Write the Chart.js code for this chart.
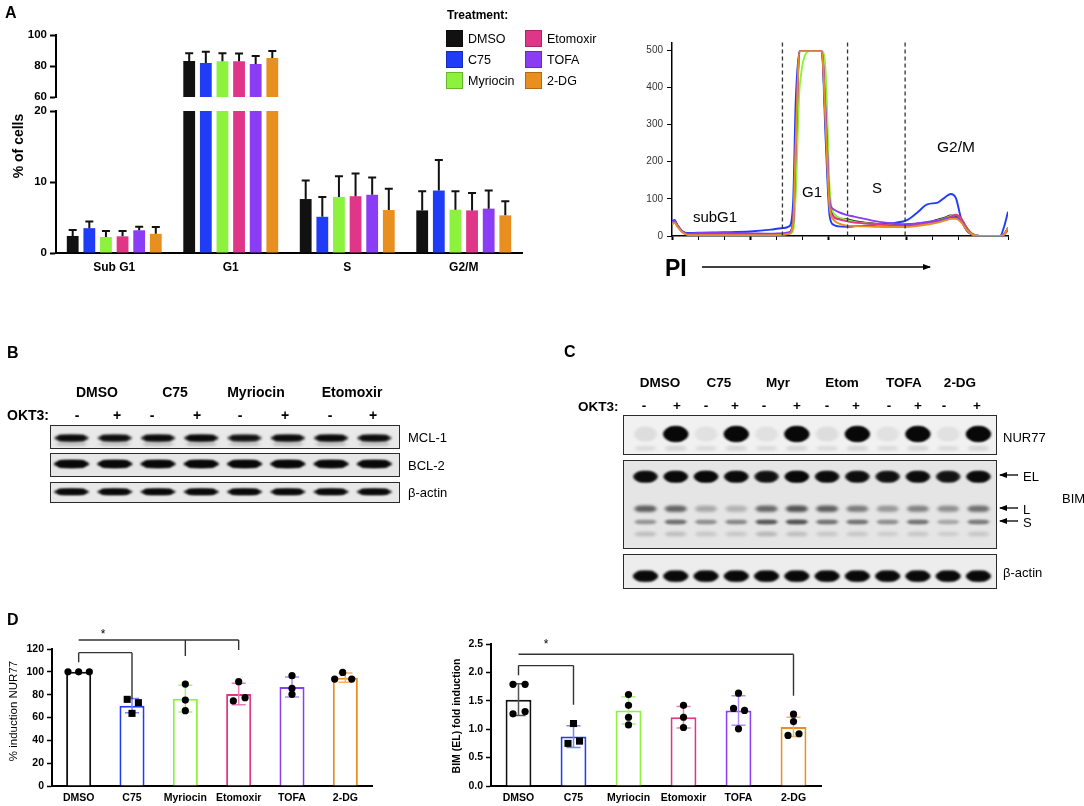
<!DOCTYPE html>
<html>
<head>
<meta charset="utf-8">
<title>Metabolic inhibitors: cell cycle and apoptosis proteins</title>
<script src="https://cdn.jsdelivr.net/npm/chart.js@4.4.1/dist/chart.umd.min.js"></script>
<style>
  html, body { margin: 0; padding: 0; background: #fff; }
  body { position: relative; width: 1084px; height: 806px; overflow: hidden; font-family: 'Liberation Sans', Arial, sans-serif; color: #000; }
  .pane { position: absolute; }
  .pane canvas { display: block; }
  .blot { position: absolute; border: 1.5px solid #2a2a2a; box-sizing: border-box; }
  .txt { position: absolute; white-space: nowrap; line-height: 1; }
  .sw { position: absolute; width: 17px; height: 17px; box-sizing: border-box; border: 1px solid rgba(0,0,0,0.25); }
  svg.marks { position: absolute; left: 0; top: 0; pointer-events: none; }
</style>
</head>
<body>

<!-- A: broken-axis bar chart -->
<div class="pane" style="left:0;top:23px;width:540px;height:86px"><canvas id="cellsTop"></canvas></div>
<div class="pane" style="left:0;top:97px;width:540px;height:193px"><canvas id="cellsLow"></canvas></div>

<!-- A: histogram -->
<div class="pane" style="left:630px;top:30px;width:400px;height:231px"><canvas id="histo"></canvas></div>

<!-- B: blots -->
<div class="blot" style="left:50px;top:425px;width:350px;height:23.5px"><canvas id="blotMcl"></canvas></div>
<div class="blot" style="left:50px;top:453px;width:350px;height:24px"><canvas id="blotBcl"></canvas></div>
<div class="blot" style="left:50px;top:481.5px;width:350px;height:21.5px"><canvas id="blotActB"></canvas></div>

<!-- C: blots -->
<div class="blot" style="left:623px;top:415px;width:374px;height:40px"><canvas id="blotNur"></canvas></div>
<div class="blot" style="left:623px;top:460px;width:374px;height:89px"><canvas id="blotBim"></canvas></div>
<div class="blot" style="left:623px;top:554px;width:374px;height:34.5px"><canvas id="blotActC"></canvas></div>

<!-- D: dot plots -->
<div class="pane" style="left:0;top:615px;width:390px;height:191px"><canvas id="nurPlot"></canvas></div>
<div class="pane" style="left:440px;top:615px;width:400px;height:191px"><canvas id="bimPlot"></canvas></div>

<svg class="marks" width="1084" height="806">
  <defs>
    <marker id="head" markerWidth="8" markerHeight="6" refX="7" refY="3" orient="auto" markerUnits="userSpaceOnUse">
      <path d="M0,0 L8,3 L0,6 Z" fill="#000"/>
    </marker>
  </defs>
  <line x1="702" y1="267" x2="930" y2="267" stroke="#000" stroke-width="1.5" marker-end="url(#head)"/>
  <line x1="1018" y1="475" x2="1000" y2="475" stroke="#000" stroke-width="1.3" marker-end="url(#head)"/>
  <line x1="1018" y1="508" x2="1000" y2="508" stroke="#000" stroke-width="1.3" marker-end="url(#head)"/>
  <line x1="1018" y1="521" x2="1000" y2="521" stroke="#000" stroke-width="1.3" marker-end="url(#head)"/>
</svg>

<script>
// ---- data ----
const treatments = ['DMSO', 'C75', 'Myriocin', 'Etomoxir', 'TOFA', '2-DG'];
const treatColors = ['#111111', '#1f3cf6', '#8cf23e', '#e03688', '#8a3df4', '#e88f1f'];
const whiskerColors = ['#555555', '#7088fb', '#a9f27c', '#ec7cb0', '#b18bf6', '#f0b264'];

// A: % of cells per phase (mean) and upper error
const phases = ['Sub G1', 'G1', 'S', 'G2/M'];
const dmsoPct = [2.4, 83.2, 7.6, 6.0];
const c75Pct = [3.5, 82.0, 5.1, 8.8];
const myrPct = [2.25, 83.0, 7.9, 6.1];
const etoPct = [2.35, 83.0, 8.0, 6.0];
const tofaPct = [3.2, 81.3, 8.2, 6.25];
const dgPct = [2.7, 85.2, 6.05, 5.3];
const dmsoErr = [0.85, 5.0, 2.6, 2.7];
const c75Err = [0.95, 7.2, 2.8, 4.3];
const myrErr = [0.85, 5.2, 2.9, 2.6];
const etoErr = [0.75, 5.0, 3.2, 2.45];
const tofaErr = [0.5, 5.2, 2.45, 2.55];
const dgErr = [0.95, 4.5, 3.0, 2.0];

// A: PI histogram (channel, counts)
const histX = [0, 1, 2, 4, 6, 10, 20, 30, 38, 42, 45, 46.5, 47.5, 49, 53, 57.5, 59, 60.5, 62, 64, 67, 70, 74, 78, 82, 86, 90, 94, 98, 102, 105, 107, 109, 111, 113, 115, 118, 122, 126, 127.5, 129];
const histDmso = [38, 41, 28, 12, 5, 3, 3, 3, 4, 5, 8, 40, 250, 497, 497, 497, 300, 80, 58, 48, 45, 40, 36, 33, 31, 30, 31, 33, 36, 44, 50, 55, 54, 40, 18, 5, 0, 0, 0, 5, 22];
const histC75 = [40, 43, 30, 13, 8, 9, 10, 12, 17, 21, 26, 90, 360, 497, 497, 497, 260, 55, 30, 26, 25, 26, 28, 30, 33, 36, 42, 62, 85, 90, 105, 113, 102, 47, 16, 4, 0, 0, 0, 25, 65];
const histMyr = [36, 39, 27, 11, 4, 2, 2, 2, 3, 4, 6, 14, 110, 400, 497, 497, 440, 130, 62, 50, 43, 38, 35, 32, 30, 28, 28, 32, 36, 42, 48, 54, 56, 46, 24, 8, 0, 0, 0, 5, 18];
const histEto = [34, 39, 28, 11, 5, 6, 6, 5, 5, 6, 9, 32, 230, 497, 497, 497, 320, 90, 52, 45, 40, 36, 34, 32, 30, 28, 27, 30, 35, 40, 47, 52, 57, 48, 24, 7, 0, 0, 0, 4, 16];
const histTofa = [36, 40, 29, 12, 6, 8, 8, 7, 6, 7, 10, 36, 260, 497, 497, 497, 330, 95, 72, 64, 57, 52, 46, 40, 36, 33, 31, 34, 38, 41, 46, 50, 50, 40, 20, 5, 0, 0, 0, 5, 20];
const histDg = [31, 36, 26, 10, 3, 2, 2, 2, 2, 3, 6, 30, 240, 497, 497, 497, 300, 78, 44, 34, 28, 27, 26, 25, 24, 24, 24, 27, 31, 36, 42, 46, 46, 37, 18, 5, 0, 0, 0, 4, 22];
const gateEdges = [42.4, 67.4, 89.5];

// B/C: band intensities per lane (0 = none, 1 = saturated)
const mclBand = [0.9, 0.85, 0.9, 0.95, 0.8, 0.9, 0.92, 0.88];
const bclBand = [1, 1, 0.97, 1, 1, 1, 0.98, 0.97];
const actinB = [0.95, 0.93, 0.93, 0.95, 0.95, 0.93, 0.93, 0.92];
const nurBand = [0.04, 1, 0.03, 1, 0.03, 1, 0.04, 1, 0.03, 1, 0.03, 1];
const bimEL = [0.88, 0.92, 0.95, 0.9, 0.8, 0.97, 0.88, 0.85, 0.8, 0.88, 0.78, 0.9];
const bimL = [0.38, 0.36, 0.15, 0.12, 0.35, 0.42, 0.38, 0.28, 0.2, 0.26, 0.22, 0.32];
const bimS = [0.2, 0.32, 0.22, 0.24, 0.4, 0.42, 0.3, 0.3, 0.22, 0.3, 0.15, 0.28];
const bimLow = [0.1, 0.1, 0.08, 0.08, 0.12, 0.1, 0.08, 0.08, 0.06, 0.08, 0.06, 0.08];
const actinC = [0.95, 0.95, 0.95, 0.95, 0.95, 0.95, 0.95, 0.95, 0.95, 0.95, 0.95, 0.95];

// D: NUR77 induction (%) and BIM(EL) fold induction
const nurMean = [100, 70.4, 76.5, 80.6, 86.7, 94.9];
const nurSd = [0, 6.3, 11.7, 9.4, 8.7, 4.1];
const nurDots = [[100, 100, 100], [75.9, 73, 63.6], [89.3, 75.3, 66], [91.4, 74.5, 77.4], [96.6, 85.5, 80.3], [99.5, 93.7, 93.7]];
const bimMean = [1.52, 0.87, 1.33, 1.21, 1.33, 1.04];
const bimSd = [0.28, 0.19, 0.24, 0.19, 0.26, 0.17];
const bimDots = [[1.79, 1.79, 1.27, 1.31], [1.10, 0.75, 0.79], [1.61, 1.42, 1.21, 1.076], [1.42, 1.21, 1.03], [1.635, 1.365, 1.33, 1.006], [1.265, 1.135, 0.89, 0.92]];

Chart.defaults.font.family = "'Liberation Sans', Arial, sans-serif";
Chart.defaults.color = '#000';

const fixWidth = w => scale => { scale.width = w; };
const fixHeight = h => scale => { scale.height = h; };

// ---- A: bars with upward error bars, split into two y ranges ----
const errorCaps = {
  id: 'errorCaps',
  afterDatasetsDraw(chart) {
    const { ctx, scales: { y } } = chart;
    ctx.save();
    ctx.strokeStyle = '#111';
    ctx.lineWidth = 2;
    chart.data.datasets.forEach((ds, i) => {
      chart.getDatasetMeta(i).data.forEach((bar, j) => {
        const v = ds.data[j];
        if (v == null || v > y.max) return;
        const top = y.getPixelForValue(v + ds.errUp[j]);
        ctx.beginPath();
        ctx.moveTo(bar.x, bar.y);
        ctx.lineTo(bar.x, top);
        ctx.moveTo(bar.x - 4, top);
        ctx.lineTo(bar.x + 4, top);
        ctx.stroke();
      });
    });
    ctx.restore();
  }
};

const pctSeries = [dmsoPct, c75Pct, myrPct, etoPct, tofaPct, dgPct];
const errSeries = [dmsoErr, c75Err, myrErr, etoErr, tofaErr, dgErr];

function cellsChart(id, range) {
  return new Chart(document.getElementById(id), {
    type: 'bar',
    data: {
      labels: phases,
      datasets: treatments.map((t, i) => ({
        label: t,
        data: pctSeries[i].map(v => (range.upper && v < range.min ? null : v)),
        errUp: errSeries[i],
        backgroundColor: treatColors[i],
        borderWidth: 0,
        categoryPercentage: 0.856,
        barPercentage: 0.71
      }))
    },
    options: {
      responsive: true,
      maintainAspectRatio: false,
      animation: false,
      events: [],
      layout: { padding: range.padding },
      plugins: { legend: { display: false }, tooltip: { enabled: false } },
      scales: {
        x: {
          display: !range.upper,
          grid: { display: false, drawTicks: false },
          border: { display: true, color: '#000', width: 2 },
          ticks: { padding: 7, font: { size: 12, weight: 'bold' } },
          afterFit: fixHeight(range.upper ? 0 : 37)
        },
        y: {
          min: range.min,
          max: range.max,
          ticks: { stepSize: range.step, padding: 3, font: { size: 11.5, weight: 'bold' } },
          grid: { drawOnChartArea: false, tickLength: 6, tickColor: '#000', tickWidth: 2 },
          border: { color: '#000', width: 2 },
          afterFit: fixWidth(56)
        }
      }
    },
    plugins: [errorCaps]
  });
}

cellsChart('cellsTop', { upper: true, min: 60, max: 100, step: 20, padding: { top: 12, bottom: 12, right: 18, left: 0 } });
cellsChart('cellsLow', { upper: false, min: 0, max: 20, step: 10, padding: { top: 14, bottom: 0, right: 18, left: 0 } });

// ---- A: PI histogram ----
const gateLines = {
  id: 'gateLines',
  afterDatasetsDraw(chart) {
    const { ctx, chartArea: a, scales: { x } } = chart;
    ctx.save();
    ctx.strokeStyle = '#333';
    ctx.lineWidth = 1.3;
    ctx.setLineDash([4, 3]);
    gateEdges.forEach(g => {
      const px = x.getPixelForValue(g);
      ctx.beginPath();
      ctx.moveTo(px, a.top);
      ctx.lineTo(px, a.bottom);
      ctx.stroke();
    });
    ctx.restore();
  }
};

const histSeries = [histDmso, histC75, histMyr, histEto, histTofa, histDg];
const histOrder = [5, 4, 3, 2, 1, 0];

new Chart(document.getElementById('histo'), {
  type: 'line',
  data: {
    datasets: histSeries.map((s, i) => ({
      label: treatments[i],
      data: histX.map((x, k) => ({ x, y: s[k] })),
      borderColor: treatColors[i],
      borderWidth: 1.9,
      pointRadius: 0,
      cubicInterpolationMode: 'monotone',
      order: histOrder[i]
    }))
  },
  options: {
    responsive: true,
    maintainAspectRatio: false,
    animation: false,
    events: [],
    layout: { padding: { top: 12.6, right: 22, left: 0, bottom: 0 } },
    plugins: { legend: { display: false }, tooltip: { enabled: false } },
    scales: {
      x: {
        type: 'linear',
        min: 0,
        max: 129,
        ticks: { display: false, stepSize: 10 },
        grid: {
          drawOnChartArea: false, tickLength: 4, tickColor: '#000',
          tickWidth: c => (c.tick && c.tick.value % 30 === 0 ? 2 : 1)
        },
        border: { color: '#000', width: 1.5 },
        afterFit: fixHeight(25)
      },
      y: {
        min: 0,
        max: 520,
        ticks: { stepSize: 100, includeBounds: false, padding: 4, color: '#333', font: { size: 10 } },
        grid: { drawOnChartArea: false, tickLength: 5, tickColor: '#000' },
        border: { color: '#000', width: 1.5 },
        afterFit: fixWidth(42)
      }
    }
  },
  plugins: [gateLines]
});

// ---- B/C: western blot lanes ----
function blotBands(bg, rows) {
  return {
    id: 'blotBands',
    beforeDatasetsDraw(chart) {
      const { ctx, chartArea: a, scales: { x, y } } = chart;
      const lane = x.getPixelForValue(1) - x.getPixelForValue(0);
      ctx.save();
      ctx.fillStyle = bg;
      ctx.fillRect(a.left, a.top, a.width, a.height);
      rows.forEach(r => {
        ctx.filter = `blur(${r.blur}px)`;
        r.vals.forEach((v, i) => {
          const cx = x.getPixelForValue(i), cy = y.getPixelForValue(r.y), w = lane * r.w;
          ctx.fillStyle = `rgba(8,8,8,${v})`;
          ctx.beginPath();
          ctx.ellipse(cx, cy, w / 2, r.h / 2, 0, 0, Math.PI * 2);
          ctx.fill();
          ctx.beginPath();
          ctx.roundRect(cx - w * 0.4, cy - r.h / 2, w * 0.8, r.h, r.h / 2);
          ctx.fill();
        });
      });
      ctx.restore();
    }
  };
}

function blot(id, lanes, bg, rows) {
  return new Chart(document.getElementById(id), {
    type: 'scatter',
    data: { datasets: [] },
    options: {
      responsive: true,
      maintainAspectRatio: false,
      animation: false,
      events: [],
      layout: { padding: 0 },
      plugins: { legend: { display: false }, tooltip: { enabled: false } },
      scales: {
        x: { type: 'linear', display: false, min: lanes[0], max: lanes[1] },
        y: { type: 'linear', display: false, min: 0, max: 1, reverse: true }
      }
    },
    plugins: [blotBands(bg, rows)]
  });
}

const lanesB = [-0.475, 7.57];
const lanesC = [-0.71, 11.58];
blot('blotMcl', lanesB, '#e9e9e9', [
  { vals: mclBand.map(v => v * 0.12), y: 0.8, h: 3, w: 0.8, blur: 1 },
  { vals: mclBand, y: 0.53, h: 6, w: 0.8, blur: 0.9 }
]);
blot('blotBcl', lanesB, '#e6e6e6', [{ vals: bclBand, y: 0.45, h: 7.5, w: 0.82, blur: 0.9 }]);
blot('blotActB', lanesB, '#e8e8e8', [{ vals: actinB, y: 0.45, h: 6, w: 0.82, blur: 0.9 }]);

blot('blotNur', lanesC, '#f1f1f1', [
  { vals: nurBand.map(v => 0.05 + v * 0.02), y: 0.85, h: 4, w: 0.8, blur: 1.5 },
  { vals: nurBand, y: 0.475, h: 15, w: 0.84, blur: 1.1 }
]);
blot('blotBim', lanesC, '#e5e5e5', [
  { vals: bimEL, y: 0.18, h: 11, w: 0.82, blur: 1.2 },
  { vals: bimL, y: 0.55, h: 6, w: 0.8, blur: 1.4 },
  { vals: bimS, y: 0.70, h: 4.5, w: 0.8, blur: 1.2 },
  { vals: bimLow, y: 0.84, h: 4, w: 0.8, blur: 1.5 }
]);
blot('blotActC', lanesC, '#ededed', [{ vals: actinC, y: 0.63, h: 10, w: 0.84, blur: 1.1 }]);

// ---- D: open bars with SD whiskers, individual points and brackets ----
const whiskers = {
  id: 'whiskers',
  afterDatasetDraw(chart, args) {
    const ds = chart.data.datasets[args.index];
    if (!ds.sd) return;
    const { ctx, scales: { y } } = chart;
    ctx.save();
    ctx.lineWidth = 1.5;
    args.meta.data.forEach((bar, j) => {
      const sd = ds.sd[j];
      if (!sd) return;
      const hi = y.getPixelForValue(ds.data[j] + sd), lo = y.getPixelForValue(ds.data[j] - sd);
      ctx.strokeStyle = whiskerColors[j];
      ctx.beginPath();
      ctx.moveTo(bar.x, hi); ctx.lineTo(bar.x, lo);
      ctx.moveTo(bar.x - 7, hi); ctx.lineTo(bar.x + 7, hi);
      ctx.moveTo(bar.x - 7, lo); ctx.lineTo(bar.x + 7, lo);
      ctx.stroke();
    });
    ctx.restore();
  }
};

function bracketLines(list) {
  return {
    id: 'brackets',
    afterDatasetsDraw(chart) {
      const { ctx, scales: { xj, y } } = chart;
      ctx.save();
      ctx.strokeStyle = '#333';
      ctx.lineWidth = 1.4;
      list.forEach(b => {
        const yy = y.getPixelForValue(b.y);
        ctx.beginPath();
        ctx.moveTo(xj.getPixelForValue(b.from), yy);
        ctx.lineTo(xj.getPixelForValue(b.to), yy);
        b.drops.forEach(([at, end]) => {
          ctx.moveTo(xj.getPixelForValue(at), yy);
          ctx.lineTo(xj.getPixelForValue(at), y.getPixelForValue(end));
        });
        ctx.stroke();
      });
      ctx.restore();
    }
  };
}

function dotPlot(id, o) {
  const pts = [];
  o.dots.forEach((vals, i) => vals.forEach((v, k) => pts.push({ x: i + o.spread[i][k], y: v, sq: i === 1 })));
  return new Chart(document.getElementById(id), {
    data: {
      labels: treatments,
      datasets: [
        {
          type: 'bar', data: o.means, sd: o.sds, grouped: false,
          borderColor: treatColors, backgroundColor: '#ffffff', borderWidth: 2,
          categoryPercentage: o.barFrac, barPercentage: 1, order: 2
        },
        {
          type: 'scatter', xAxisID: 'xj', data: pts,
          backgroundColor: '#000', borderColor: '#000', borderWidth: 0,
          pointStyle: c => (c.raw && c.raw.sq ? 'rect' : 'circle'),
          pointRadius: c => (c.raw && c.raw.sq ? 5 : 3.6),
          order: 1
        }
      ]
    },
    options: {
      responsive: true,
      maintainAspectRatio: false,
      animation: false,
      events: [],
      layout: { padding: o.padding },
      plugins: { legend: { display: false }, tooltip: { enabled: false } },
      scales: {
        x: {
          grid: { display: false, drawTicks: false },
          border: { display: true, color: '#000', width: 2 },
          ticks: { padding: 6, font: { size: 10.5, weight: 'bold' } },
          afterFit: fixHeight(20)
        },
        xj: { type: 'linear', display: false, min: -0.5, max: 5.5 },
        y: {
          min: 0,
          max: o.max,
          ticks: { stepSize: o.step, padding: 3, font: { size: 10.5, weight: 'bold' }, callback: v => v.toFixed(o.decimals) },
          grid: { drawOnChartArea: false, tickLength: 5, tickColor: '#000', tickWidth: 1.5 },
          border: { color: '#000', width: 2 },
          afterFit: fixWidth(o.yWidth)
        }
      }
    },
    plugins: [whiskers, bracketLines(o.brackets)]
  });
}

dotPlot('nurPlot', {
  means: nurMean, sds: nurSd, dots: nurDots,
  spread: [[-0.2, 0, 0.2], [-0.09, 0.12, 0], [0, 0, 0], [0, -0.1, 0.12], [0, 0, 0], [-0.05, -0.2, 0.12]],
  barFrac: 0.47, max: 120, step: 20, decimals: 0, yWidth: 52,
  padding: { top: 34, right: 18, left: 0, bottom: 0 },
  brackets: [
    { from: 0, to: 1, y: 116.8, drops: [[0, 108.3], [1, 75.9]] },
    { from: 0, to: 3, y: 127.9, drops: [[2, 113.9], [3, 119.1]] }
  ]
});

dotPlot('bimPlot', {
  means: bimMean, sds: bimSd, dots: bimDots,
  spread: [[-0.1, 0.12, -0.1, 0.12], [0, -0.1, 0.11], [0, 0, 0, 0], [0, 0, 0], [0, -0.09, 0.11, 0], [0, 0, -0.1, 0.1]],
  barFrac: 0.47, max: 2.5, step: 0.5, decimals: 1, yWidth: 51,
  padding: { top: 29, right: 19, left: 0, bottom: 0 },
  brackets: [
    { from: 0, to: 1, y: 2.12, drops: [[0, 1.95], [1, 1.43]] },
    { from: 0, to: 5, y: 2.32, drops: [[5, 1.59]] }
  ]
});

// ---- text ----
function put(text, x, y, style, anchor) {
  const d = document.createElement('div');
  d.className = 'txt';
  d.textContent = text;
  d.style.cssText += `left:${x}px;top:${y}px;${style}`;
  d.style.transform = anchor === 'left' ? 'translate(0,-50%)'
    : anchor === 'rot' ? 'translate(-50%,-50%) rotate(-90deg)'
    : 'translate(-50%,-50%)';
  document.body.appendChild(d);
}

const bold = s => `font-size:${s}px;font-weight:bold;`;
const reg = s => `font-size:${s}px;`;

put('A', 5, 13, bold(16), 'left');
put('B', 7, 353, bold(16), 'left');
put('C', 564, 352, bold(16), 'left');
put('D', 7, 620, bold(16), 'left');

put('% of cells', 17.5, 146, bold(14), 'rot');

// legend
put('Treatment:', 447, 15, bold(12), 'left');
const legendSpots = [[446, 30], [446, 51], [446, 72], [525, 30], [525, 51], [525, 72]];
treatments.forEach((t, i) => {
  const [lx, ly] = legendSpots[i];
  const sw = document.createElement('div');
  sw.className = 'sw';
  sw.style.left = lx + 'px';
  sw.style.top = ly + 'px';
  sw.style.background = treatColors[i];
  document.body.appendChild(sw);
  put(t, lx + 22, ly + 9, reg(12.5), 'left');
});

// histogram annotations
put('subG1', 715, 216, reg(15));
put('G1', 812, 191, reg(15));
put('S', 877, 187, reg(15));
put('G2/M', 956, 147, reg(15.5));
put('PI', 665, 268, bold(23), 'left');

// B headers
[['DMSO', 97], ['C75', 175], ['Myriocin', 256], ['Etomoxir', 352]].forEach(([t, x]) => put(t, x, 392, bold(14)));
put('OKT3:', 7, 415, bold(14), 'left');
[77, 117, 152, 197, 240, 285, 330, 373].forEach((x, i) => put(i % 2 ? '+' : '-', x, 415, bold(14)));
put('MCL-1', 408, 437, reg(13), 'left');
put('BCL-2', 408, 465, reg(13), 'left');
put('β-actin', 408, 492, reg(13), 'left');

// C headers
[['DMSO', 660], ['C75', 719], ['Myr', 778], ['Etom', 842], ['TOFA', 904], ['2-DG', 960]].forEach(([t, x]) => put(t, x, 383, bold(13.5)));
put('OKT3:', 578, 406.5, bold(13.5), 'left');
[644, 677, 706, 735, 764, 797, 827, 856, 889, 918, 944, 977].forEach((x, i) => put(i % 2 ? '+' : '-', x, 406, bold(13.5)));
put('NUR77', 1003, 437, reg(13), 'left');
put('EL', 1023, 476, reg(13), 'left');
put('BIM', 1062, 498, reg(13), 'left');
put('L', 1023, 509, reg(13), 'left');
put('S', 1023, 522, reg(13), 'left');
put('β-actin', 1003, 572, reg(13), 'left');

// D annotations
put('*', 103, 634, reg(12));
put('*', 546, 644, reg(12));
put('% induction NUR77', 14, 711, reg(11.5), 'rot');
put('BIM (EL) fold induction', 456, 716, bold(10.5), 'rot');
</script>
</body>
</html>
